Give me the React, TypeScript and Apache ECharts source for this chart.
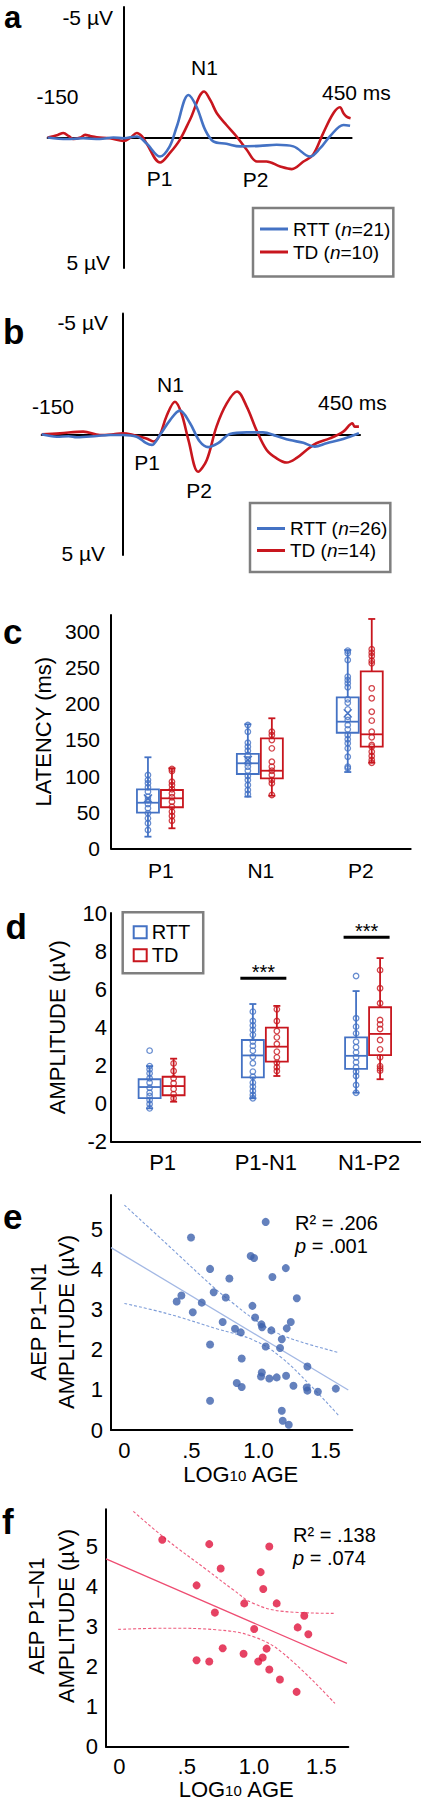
import React, { useEffect, useRef } from "react";
import * as echarts from "echarts";

const FONT = "'Liberation Sans', Arial, Helvetica, sans-serif";
const BLUE = "#4472C4";
const RED = "#C8161E";
const GRAY = "#7F7F7F";

// ---------- Panel a : AEP waveforms [time ms, amplitude µV] ----------
const rttA: number[][] = [
  [-150, 0], [-112, 0.06], [-80, 0.03], [-47, 0.06], [-20, 0], [0, 0.03], [26, -0.04], [45, 0.22],
  [72, 0.73], [91, 0.34], [105, -0.42], [128, -1.63], [144, -1.18], [161, -0.29], [177, 0.15],
  [203, 0.24], [230, 0.34], [269, 0.32], [302, 0.28], [335, 0.34], [368, 0.73], [388, 0.41],
  [407, -0.04], [434, -0.48], [447, -0.45],
];
const tdA: number[][] = [
  [-150, 0], [-130, -0.1], [-119, -0.17], [-108, -0.05], [-99, 0.06], [-85, 0], [-76, -0.1], [-65, -0.05],
  [-53, -0.01], [-27, 0.03], [0, 0.13], [14, 0], [26, -0.17], [36, -0.05], [45, 0.22], [72, 0.96],
  [91, 0.6], [111, 0.09], [131, -0.68], [159, -1.76], [172, -1.4], [184, -0.93], [203, -0.48],
  [223, -0.04], [243, 0.47], [263, 0.92], [282, 0.92], [309, 1.11], [332, 1.21], [355, 0.92],
  [374, 0.66], [394, -0.17], [414, -0.93], [427, -1.16], [434, -0.93], [440, -0.8], [448, -0.74],
];
// ---------- Panel b ----------
const rttB: number[][] = [
  [-150, 0], [-122, 0.1], [-100, 0.08], [-85, 0.12], [-48, 0.07], [-23, 0.03], [0, 0.03], [26, 0.1],
  [44, 0.37], [54, 0.44], [69, 0.03], [88, -0.59], [106, -0.98], [125, -0.46], [143, 0.3], [159, 0.53],
  [177, 0.37], [199, -0.01], [230, -0.08], [260, -0.08], [285, 0.07], [310, 0.24], [335, 0.35],
  [356, 0.51], [378, 0.37], [402, 0.24], [421, 0.1], [438, -0.04],
];
const tdB: number[][] = [
  [-150, 0], [-116, -0.04], [-73, -0.11], [-42, 0.03], [-17, 0], [0, -0.04], [20, 0.03], [44, 0.17],
  [57, 0.3], [69, 0.03], [81, -0.73], [97, -1.35], [109, -0.87], [122, 0.24], [140, 1.55], [156, 1.06],
  [174, -0.32], [193, -1.28], [212, -1.77], [230, -1.15], [248, -0.18], [267, 0.65], [285, 0.99],
  [304, 1.17], [322, 0.99], [341, 0.65], [359, 0.37], [384, 0.17], [409, -0.11], [426, -0.46],
  [430, -0.32], [438, -0.32],
];

// ---------- Panel c : latency ----------
const cCategories = ["P1", "N1", "P2"];
const cTickValues = [0, 50, 100, 150, 200, 250, 300];
// [low whisker, Q1, median, Q3, high whisker]
const cRttBoxes = [[16.1, 49.3, 63.1, 81.7, 126], [71.4, 102.9, 117.7, 130.6, 171.7], [105.6, 160, 175.3, 209, 274.5]];
const cTdBoxes = [[27.7, 56.8, 69.2, 80.7, 110.8], [72.8, 96.9, 107.4, 152.3, 180], [118.5, 140.7, 157.8, 245, 317.5]];
const cRttMeans = [69, 122.2, 186.8];
const cRttPoints = [
  [101.5, 94.6, 90, 84.5, 78.4, 71.4, 66.9, 61.3, 55.4, 48.5, 41.5, 34.6, 25.3],
  [170.7, 161.4, 146.2, 140.7, 135.1, 129.2, 123.2, 117.7, 113, 107.4, 100.1, 94.6, 87.6, 80.7, 75.2],
  [273.6, 270, 260.7, 237.6, 233, 228.4, 222.9, 206.3, 201.6, 192.4, 182.2, 177.6, 170.7, 164.7, 156.9, 150.9, 145.4, 138.4, 126.8, 113, 110.8],
];
const cTdPoints = [
  [109.8, 107, 92.2, 87.6, 81.7, 76.1, 70.6, 64.5, 57.6, 50.7, 44.7, 38.2],
  [161.4, 156.9, 149.9, 138.4, 119.9, 113, 107.4, 101.5, 94.6, 90, 73.8],
  [275.5, 270.8, 266.2, 259.7, 256.1, 221.5, 207.7, 189.1, 176.7, 161.4, 153.7, 143, 140.7, 133.7, 127.8, 122.2, 118.5],
];

// ---------- Panel d : amplitude ----------
const dCategories = ["P1", "P1-N1", "N1-P2"];
const dRttBoxes = [[-0.26, 0.28, 0.86, 1.27, 1.96], [0.27, 1.37, 2.52, 3.33, 5.22], [0.56, 1.81, 2.5, 3.47, 5.9]];
const dTdBoxes = [[0.09, 0.43, 0.91, 1.4, 2.35], [1.44, 2.19, 2.98, 3.98, 5.12], [1.27, 2.54, 3.65, 5.05, 7.63]];
const dRttPoints = [
  [2.77, 1.96, 1.79, 1.58, 1.32, 1.09, 0.82, 0.56, 0.39, 0.18, -0.03, -0.26],
  [4.82, 4.33, 4.09, 3.86, 3.6, 3.25, 3.02, 2.77, 2.45, 2.11, 1.67, 1.4, 1.09, 0.88, 0.65, 0.44, 0.27],
  [6.69, 4.47, 4.03, 3.68, 3.24, 2.95, 2.68, 2.42, 2.16, 1.9, 1.66, 1.44, 0.97, 0.56],
];
const dTdPoints = [
  [2.1, 1.7, 1.32, 1.06, 0.76, 0.49, 0.27],
  [4.94, 4.33, 3.8, 3.47, 3.12, 2.72, 2.42, 2.14, 1.9, 1.7],
  [7.0, 6.05, 5.26, 4.38, 4.15, 3.91, 3.33, 2.84, 2.42, 1.96, 1.84, 1.72],
];
const dSigCategory = [1, 2];
const dSigLevel = [6.57, 8.72];
const dSigLabel = ["***", "***"];

// ---------- Panels e, f : amplitude vs log10 age ----------
const xTickValues = [0, 0.5, 1, 1.5];
const xTickLabels = ["0", ".5", "1.0", "1.5"];
const yTickValues = [0, 1, 2, 3, 4, 5];

const eAge = [1.054, 0.497, 0.942, 0.967, 0.639, 1.204, 0.783, 1.104, 0.666, 0.756, 0.425, 0.39, 0.577, 0.51, 0.955, 1.286,
  0.975, 0.733, 1.022, 1.027, 1.241, 1.211, 0.825, 0.868, 1.096, 1.174, 0.639, 1.054, 1.161, 0.875, 1.365, 1.025, 1.019,
  1.081, 1.136, 1.206, 1.261, 0.838, 0.875, 1.36, 1.365, 1.443, 1.577, 0.639, 1.174, 1.181, 1.226];
const eAmp = [5.18, 4.79, 4.33, 4.28, 4.01, 4.03, 3.77, 3.81, 3.43, 3.3, 3.35, 3.2, 3.17, 2.93, 3.09, 3.28,
  2.8, 2.69, 2.63, 2.56, 2.69, 2.53, 2.52, 2.43, 2.48, 2.26, 2.13, 2.08, 2.04, 1.78, 1.58, 1.43, 1.33,
  1.28, 1.31, 1.35, 1.1, 1.17, 1.07, 1.06, 0.98, 0.95, 1.03, 0.73, 0.48, 0.23, 0.13];
const eFitAge = [-0.1, 1.67];
const eFitAmp = [4.54, 0.995];
const eUpperAge = [0, 0.316, 0.663, 0.813, 0.962, 1.136, 1.31, 1.596];
const eUpperAmp = [5.6, 4.63, 3.56, 3.15, 2.77, 2.42, 2.2, 1.93];
const eLowerAge = [0, 0.316, 0.689, 0.962, 1.161, 1.385, 1.596];
const eLowerAmp = [3.15, 2.9, 2.52, 2.24, 1.83, 1.12, 0.37];

const fAge = [0.318, 0.667, 1.113, 0.752, 1.049, 0.573, 1.068, 0.927, 1.168, 0.709, 1.373, 1.001, 1.324, 1.403,
  0.767, 1.093, 0.573, 0.667, 0.922, 1.064, 1.031, 1.113, 1.192, 1.316];
const fAmp = [5.17, 5.06, 5.0, 4.45, 4.36, 4.03, 3.94, 3.58, 3.58, 3.35, 3.27, 2.94, 2.98, 2.81,
  2.46, 2.45, 2.16, 2.13, 2.32, 2.23, 2.13, 1.93, 1.68, 1.37];
const fFitAge = [-0.1, 1.69];
const fFitAmp = [4.69, 2.08];
const fUpperAge = [0.103, 0.351, 0.648, 0.845, 0.994, 1.217, 1.601];
const fUpperAmp = [5.88, 5.17, 4.42, 3.92, 3.58, 3.38, 3.33];
const fLowerAge = [-0.009, 0.351, 0.722, 0.994, 1.217, 1.601];
const fLowerAmp = [2.93, 2.96, 2.92, 2.75, 2.33, 1.08];

const zip = (xs: number[], ys: number[]) => xs.map((x, i) => [x, ys[i]]);

function txt(text: string, x: number, y: number, o: any = {}) {
  return {
    type: "text", x, y, rotation: o.rotation || 0, silent: true, z: 100,
    style: {
      text, fontSize: o.size || 21, fontFamily: FONT, fill: "#000",
      fontWeight: o.weight || "normal", fontStyle: o.style || "normal",
      align: o.align || "center", verticalAlign: "middle",
      lineHeight: o.lineHeight, rich: o.rich,
    },
  };
}

const axisLineStyle = { color: "#000", width: 2 };

function erpX(gridIndex: number, max: number) {
  return {
    type: "value", gridIndex, min: -150, max,
    axisLine: { show: true, onZero: true, lineStyle: axisLineStyle },
    axisTick: { show: false }, axisLabel: { show: false }, splitLine: { show: false },
  };
}
function erpY(gridIndex: number) {
  return {
    type: "value", gridIndex, min: -5, max: 5, inverse: true,
    axisLine: { show: true, onZero: true, lineStyle: axisLineStyle },
    axisTick: { show: false }, axisLabel: { show: false }, splitLine: { show: false },
  };
}
function catX(gridIndex: number, data: string[], size: number, margin: number) {
  return {
    type: "category", gridIndex, data,
    axisLine: { show: true, onZero: false, lineStyle: axisLineStyle },
    axisTick: { show: false }, splitLine: { show: false },
    axisLabel: { fontSize: size, color: "#000", fontFamily: FONT, margin },
  };
}
function ageX(gridIndex: number) {
  return {
    type: "value", gridIndex, min: -0.1, max: 1.7,
    axisLine: { show: true, onZero: false, lineStyle: axisLineStyle },
    axisTick: { show: false }, splitLine: { show: false },
    axisLabel: {
      customValues: xTickValues, fontSize: 22, color: "#000", fontFamily: FONT, margin: 9,
      formatter: (v: number) => {
        const i = xTickValues.findIndex((t) => Math.abs(t - v) < 1e-6);
        return i >= 0 ? xTickLabels[i] : "";
      },
    },
  };
}
function ampY(gridIndex: number, max: number, margin: number) {
  return {
    type: "value", gridIndex, min: 0, max,
    axisLine: { show: true, onZero: false, lineStyle: axisLineStyle },
    axisTick: { show: false }, splitLine: { show: false },
    axisLabel: { customValues: yTickValues, fontSize: 22, color: "#000", fontFamily: FONT, margin },
  };
}

function erpLine(name: string, data: number[][], color: string, idx: number, z: number) {
  return {
    type: "line", name, xAxisIndex: idx, yAxisIndex: idx, data, smooth: 0.35,
    symbol: "none", showSymbol: false, silent: true, z,
    lineStyle: { color, width: 2.6 }, itemStyle: { color },
  };
}

function boxSeries(name: string, boxes: number[][], means: number[] | null, idx: number, offset: number, color: string) {
  return {
    type: "custom", name, xAxisIndex: idx, yAxisIndex: idx, silent: true, z: 3,
    itemStyle: { color },
    data: boxes.map((b, i) => [i, ...b, means ? 1 : 0, means ? means[i] : 0]),
    encode: { x: 0, y: [1, 2, 3, 4, 5] },
    renderItem: (_p: any, api: any) => {
      const cat = api.value(0);
      const y = (k: number) => api.coord([cat, api.value(k)])[1];
      const cx = api.coord([cat, api.value(3)])[0] + offset;
      const hw = 11, cap = 3.5, w = 1.8;
      const ln = (x1: number, y1: number, x2: number, y2: number, lw = w) => ({
        type: "line", shape: { x1, y1, x2, y2 }, style: { stroke: color, lineWidth: lw },
      });
      const children: any[] = [
        ln(cx, y(5), cx, y(4)), ln(cx, y(2), cx, y(1)),
        ln(cx - cap, y(5), cx + cap, y(5)), ln(cx - cap, y(1), cx + cap, y(1)),
        { type: "rect", shape: { x: cx - hw, y: y(4), width: 2 * hw, height: y(2) - y(4) },
          style: { stroke: color, lineWidth: w, fill: "rgba(255,255,255,0)" } },
        ln(cx - hw, y(3), cx + hw, y(3)),
      ];
      if (api.value(6)) {
        const my = y(7);
        children.push(ln(cx - 4, my - 4, cx + 4, my + 4, 1.4), ln(cx - 4, my + 4, cx + 4, my - 4, 1.4));
      }
      return { type: "group", children };
    },
  };
}

function pointSeries(name: string, pts: number[][], idx: number, offset: number, color: string) {
  return {
    type: "scatter", name, xAxisIndex: idx, yAxisIndex: idx, silent: true, z: 4,
    data: pts.flatMap((arr, i) => arr.map((v) => [i, v])),
    symbol: "circle", symbolSize: 5.5, symbolOffset: [offset, 0],
    itemStyle: { color: "rgba(255,255,255,0)", borderColor: color, borderWidth: 1.3 },
  };
}

function fitLine(data: number[][], idx: number, color: string, dashed: boolean) {
  return {
    type: "line", xAxisIndex: idx, yAxisIndex: idx, data, smooth: dashed ? 0.4 : false,
    symbol: "none", showSymbol: false, silent: true, z: 2,
    lineStyle: { color, width: dashed ? 1.1 : 1.3, type: dashed ? [3, 2] : "solid" },
  };
}

function dotSeries(data: number[][], idx: number, color: string) {
  return {
    type: "scatter", xAxisIndex: idx, yAxisIndex: idx, data, silent: true, z: 3,
    symbol: "circle", symbolSize: 8, itemStyle: { color },
  };
}

function nFormatter(name: string) {
  const m = name.match(/^(\w+) \(n=(\d+)\)$/);
  return m ? `{t|${m[1]} (}{i|n}{t|=${m[2]})}` : name;
}
const nRich = {
  t: { fontSize: 19, fontFamily: FONT, color: "#000" },
  i: { fontSize: 19, fontFamily: FONT, color: "#000", fontStyle: "italic" },
};

export default function App() {
  const ref = useRef<HTMLDivElement>(null);
  useEffect(() => {
    if (!ref.current) return;
    const chart = echarts.init(ref.current, null, { renderer: "svg" });
    const ageRich = {
      a: { fontSize: 22, fontFamily: FONT, fill: "#000", lineHeight: 18 },
      s: { fontSize: 15, fontFamily: FONT, fill: "#000", lineHeight: 12, verticalAlign: "bottom" },
    };
    const pRich = {
      i: { fontSize: 20, fontFamily: FONT, fill: "#000", fontStyle: "italic" },
      n: { fontSize: 20, fontFamily: FONT, fill: "#000" },
    };
    const letter = { size: 35, weight: "bold", align: "left", lineHeight: 24 };
    const option: any = {
      animation: false,
      backgroundColor: "#fff",
      textStyle: { fontFamily: FONT, color: "#000" },
      grid: [
        { left: 47.6, top: 7, width: 304, height: 261 },
        { left: 41.7, top: 313.6, width: 318.3, height: 241.4 },
        { left: 111, top: 615, width: 299.7, height: 233.3 },
        { left: 111, top: 913, width: 309.7, height: 228.5 },
        { left: 111, top: 1195, width: 241.3, height: 235 },
        { left: 106, top: 1509.3, width: 242.3, height: 237.4 },
      ],
      xAxis: [
        erpX(0, 450),
        erpX(1, 440),
        catX(2, cCategories, 21, 12),
        catX(3, dCategories, 22, 10),
        ageX(4),
        ageX(5),
      ],
      yAxis: [
        erpY(0),
        erpY(1),
        {
          type: "value", gridIndex: 2, min: 0, max: 323,
          axisLine: { show: true, onZero: false, lineStyle: axisLineStyle },
          axisTick: { show: false }, splitLine: { show: false },
          axisLabel: { customValues: cTickValues, fontSize: 21, color: "#000", fontFamily: FONT, margin: 11 },
          name: "LATENCY (ms)", nameLocation: "middle", nameGap: 55,
          nameTextStyle: { fontSize: 22, color: "#000", fontFamily: FONT },
        },
        {
          type: "value", gridIndex: 3, min: -2, max: 10, interval: 2,
          axisLine: { show: true, onZero: false, lineStyle: axisLineStyle },
          axisTick: { show: false }, splitLine: { show: false },
          axisLabel: { fontSize: 22, color: "#000", fontFamily: FONT, margin: 4 },
          name: "AMPLITUDE (µV)", nameLocation: "middle", nameGap: 43,
          nameTextStyle: { fontSize: 22, color: "#000", fontFamily: FONT },
        },
        ampY(4, 5.85, 8),
        ampY(5, 5.93, 8),
      ],
      legend: [
        {
          data: [
            { name: "RTT (n=21)", icon: "rect", itemStyle: { color: BLUE } },
            { name: "TD (n=10)", icon: "rect", itemStyle: { color: RED } },
          ],
          orient: "vertical", left: 253, top: 208, padding: [11.5, 3, 15, 7],
          itemWidth: 28, itemHeight: 3, itemGap: 4, selectedMode: false,
          borderColor: GRAY, borderWidth: 2.5, backgroundColor: "#fff",
          formatter: nFormatter, textStyle: { fontSize: 19, fontFamily: FONT, color: "#000", rich: nRich },
        },
        {
          data: [
            { name: "RTT (n=26)", icon: "rect", itemStyle: { color: BLUE } },
            { name: "TD (n=14)", icon: "rect", itemStyle: { color: RED } },
          ],
          orient: "vertical", left: 250, top: 503, padding: [16, 3, 12, 7],
          itemWidth: 28, itemHeight: 3, itemGap: 3, selectedMode: false,
          borderColor: GRAY, borderWidth: 2.5, backgroundColor: "#fff",
          formatter: nFormatter, textStyle: { fontSize: 19, fontFamily: FONT, color: "#000", rich: nRich },
        },
        {
          data: [
            { name: "RTT", icon: "rect", itemStyle: { color: "#fff", borderColor: BLUE, borderWidth: 2 } },
            { name: "TD", icon: "rect", itemStyle: { color: "#fff", borderColor: RED, borderWidth: 2 } },
          ],
          orient: "vertical", left: 122.7, top: 912.3, padding: [10, 13, 8, 10],
          itemWidth: 13, itemHeight: 12, itemGap: 3, selectedMode: false,
          borderColor: GRAY, borderWidth: 2.5, backgroundColor: "#fff",
          textStyle: { fontSize: 20, fontFamily: FONT, color: "#000" },
        },
      ],
      series: [
        erpLine("TD (n=10)", tdA, RED, 0, 2),
        erpLine("RTT (n=21)", rttA, BLUE, 0, 3),
        erpLine("TD (n=14)", tdB, RED, 1, 2),
        erpLine("RTT (n=26)", rttB, BLUE, 1, 3),
        boxSeries("RTT ", cRttBoxes, cRttMeans, 2, -13, BLUE),
        boxSeries("TD ", cTdBoxes, null, 2, 11, RED),
        pointSeries("RTT points c", cRttPoints, 2, -13, BLUE),
        pointSeries("TD points c", cTdPoints, 2, 11, RED),
        boxSeries("RTT", dRttBoxes, null, 3, -13, BLUE),
        boxSeries("TD", dTdBoxes, null, 3, 11, RED),
        pointSeries("RTT points d", dRttPoints, 3, -13, BLUE),
        pointSeries("TD points d", dTdPoints, 3, 11, RED),
        {
          type: "custom", name: "significance", xAxisIndex: 3, yAxisIndex: 3, silent: true, z: 5,
          data: dSigCategory.map((c, i) => [c, dSigLevel[i], i]),
          encode: { x: 0, y: 1 },
          renderItem: (_p: any, api: any) => {
            const p = api.coord([api.value(0), api.value(1)]);
            const cx = p[0] - 2.5;
            return {
              type: "group",
              children: [
                { type: "line", shape: { x1: cx - 23, y1: p[1], x2: cx + 23, y2: p[1] }, style: { stroke: "#000", lineWidth: 3 } },
                { type: "text", x: cx, y: p[1] - 6,
                  style: { text: dSigLabel[api.value(2)], fontSize: 20, fontFamily: FONT, fill: "#000", align: "center", verticalAlign: "middle" } },
              ],
            };
          },
        },
        fitLine(zip(eUpperAge, eUpperAmp), 4, "#7E9DD8", true),
        fitLine(zip(eLowerAge, eLowerAmp), 4, "#7E9DD8", true),
        fitLine(zip(eFitAge, eFitAmp), 4, "#A3B8E4", false),
        dotSeries(zip(eAge, eAmp), 4, "#3D62AC"),
        fitLine(zip(fUpperAge, fUpperAmp), 5, "#EE5C7E", true),
        fitLine(zip(fLowerAge, fLowerAmp), 5, "#EE5C7E", true),
        fitLine(zip(fFitAge, fFitAmp), 5, "#EE4D72", false),
        dotSeries(zip(fAge, fAmp), 5, "#E0133C"),
      ],
      graphic: [
        // panel letters
        txt("a", 4, 17, { ...letter, size: 31, lineHeight: 22 }),
        txt("b", 3, 331, letter),
        txt("c", 3, 631.5, letter),
        txt("d", 5.5, 926.5, letter),
        txt("e", 3, 1216.5, letter),
        txt("f", 2, 1521.5, letter),
        // panel a labels
        txt("-5 µV", 113, 17, { align: "right" }),
        txt("-150", 57.5, 96),
        txt("N1", 204.5, 67),
        txt("450 ms", 322, 92, { align: "left" }),
        txt("P1", 159.5, 178),
        txt("P2", 255.5, 179),
        txt("5 µV", 110, 262, { align: "right" }),
        // panel b labels
        txt("-5 µV", 108, 322.5, { align: "right" }),
        txt("-150", 53, 406),
        txt("N1", 170.5, 384),
        txt("450 ms", 318, 402, { align: "left" }),
        txt("P1", 147, 462),
        txt("P2", 199, 490),
        txt("5 µV", 105, 553.5, { align: "right" }),
        // panel e
        txt("R² = .206", 295, 1223, { size: 20, align: "left" }),
        txt("{i|p}{n| = .001}", 295, 1245.5, { size: 20, align: "left", rich: pRich }),
        txt("{a|LOG}{s|10}{a| AGE}", 241, 1474, { size: 22, rich: ageRich }),
        txt("AEP P1–N1\nAMPLITUDE (µV)", 52.35, 1322, { size: 22, lineHeight: 28.7, rotation: Math.PI / 2 }),
        // panel f
        txt("R² = .138", 293, 1534.5, { size: 20, align: "left" }),
        txt("{i|p}{n| = .074}", 293, 1557.5, { size: 20, align: "left", rich: pRich }),
        txt("{a|LOG}{s|10}{a| AGE}", 236.5, 1789, { size: 22, rich: ageRich }),
        txt("AEP P1–N1\nAMPLITUDE (µV)", 51.7, 1616, { size: 22, lineHeight: 30, rotation: Math.PI / 2 }),
      ],
    };
    chart.setOption(option);
    return () => chart.dispose();
  }, []);
  return (
    <div
      ref={ref}
      style={{ position: "absolute", left: 0, top: 0, width: 421, height: 1800, background: "#fff" }}
    />
  );
}
